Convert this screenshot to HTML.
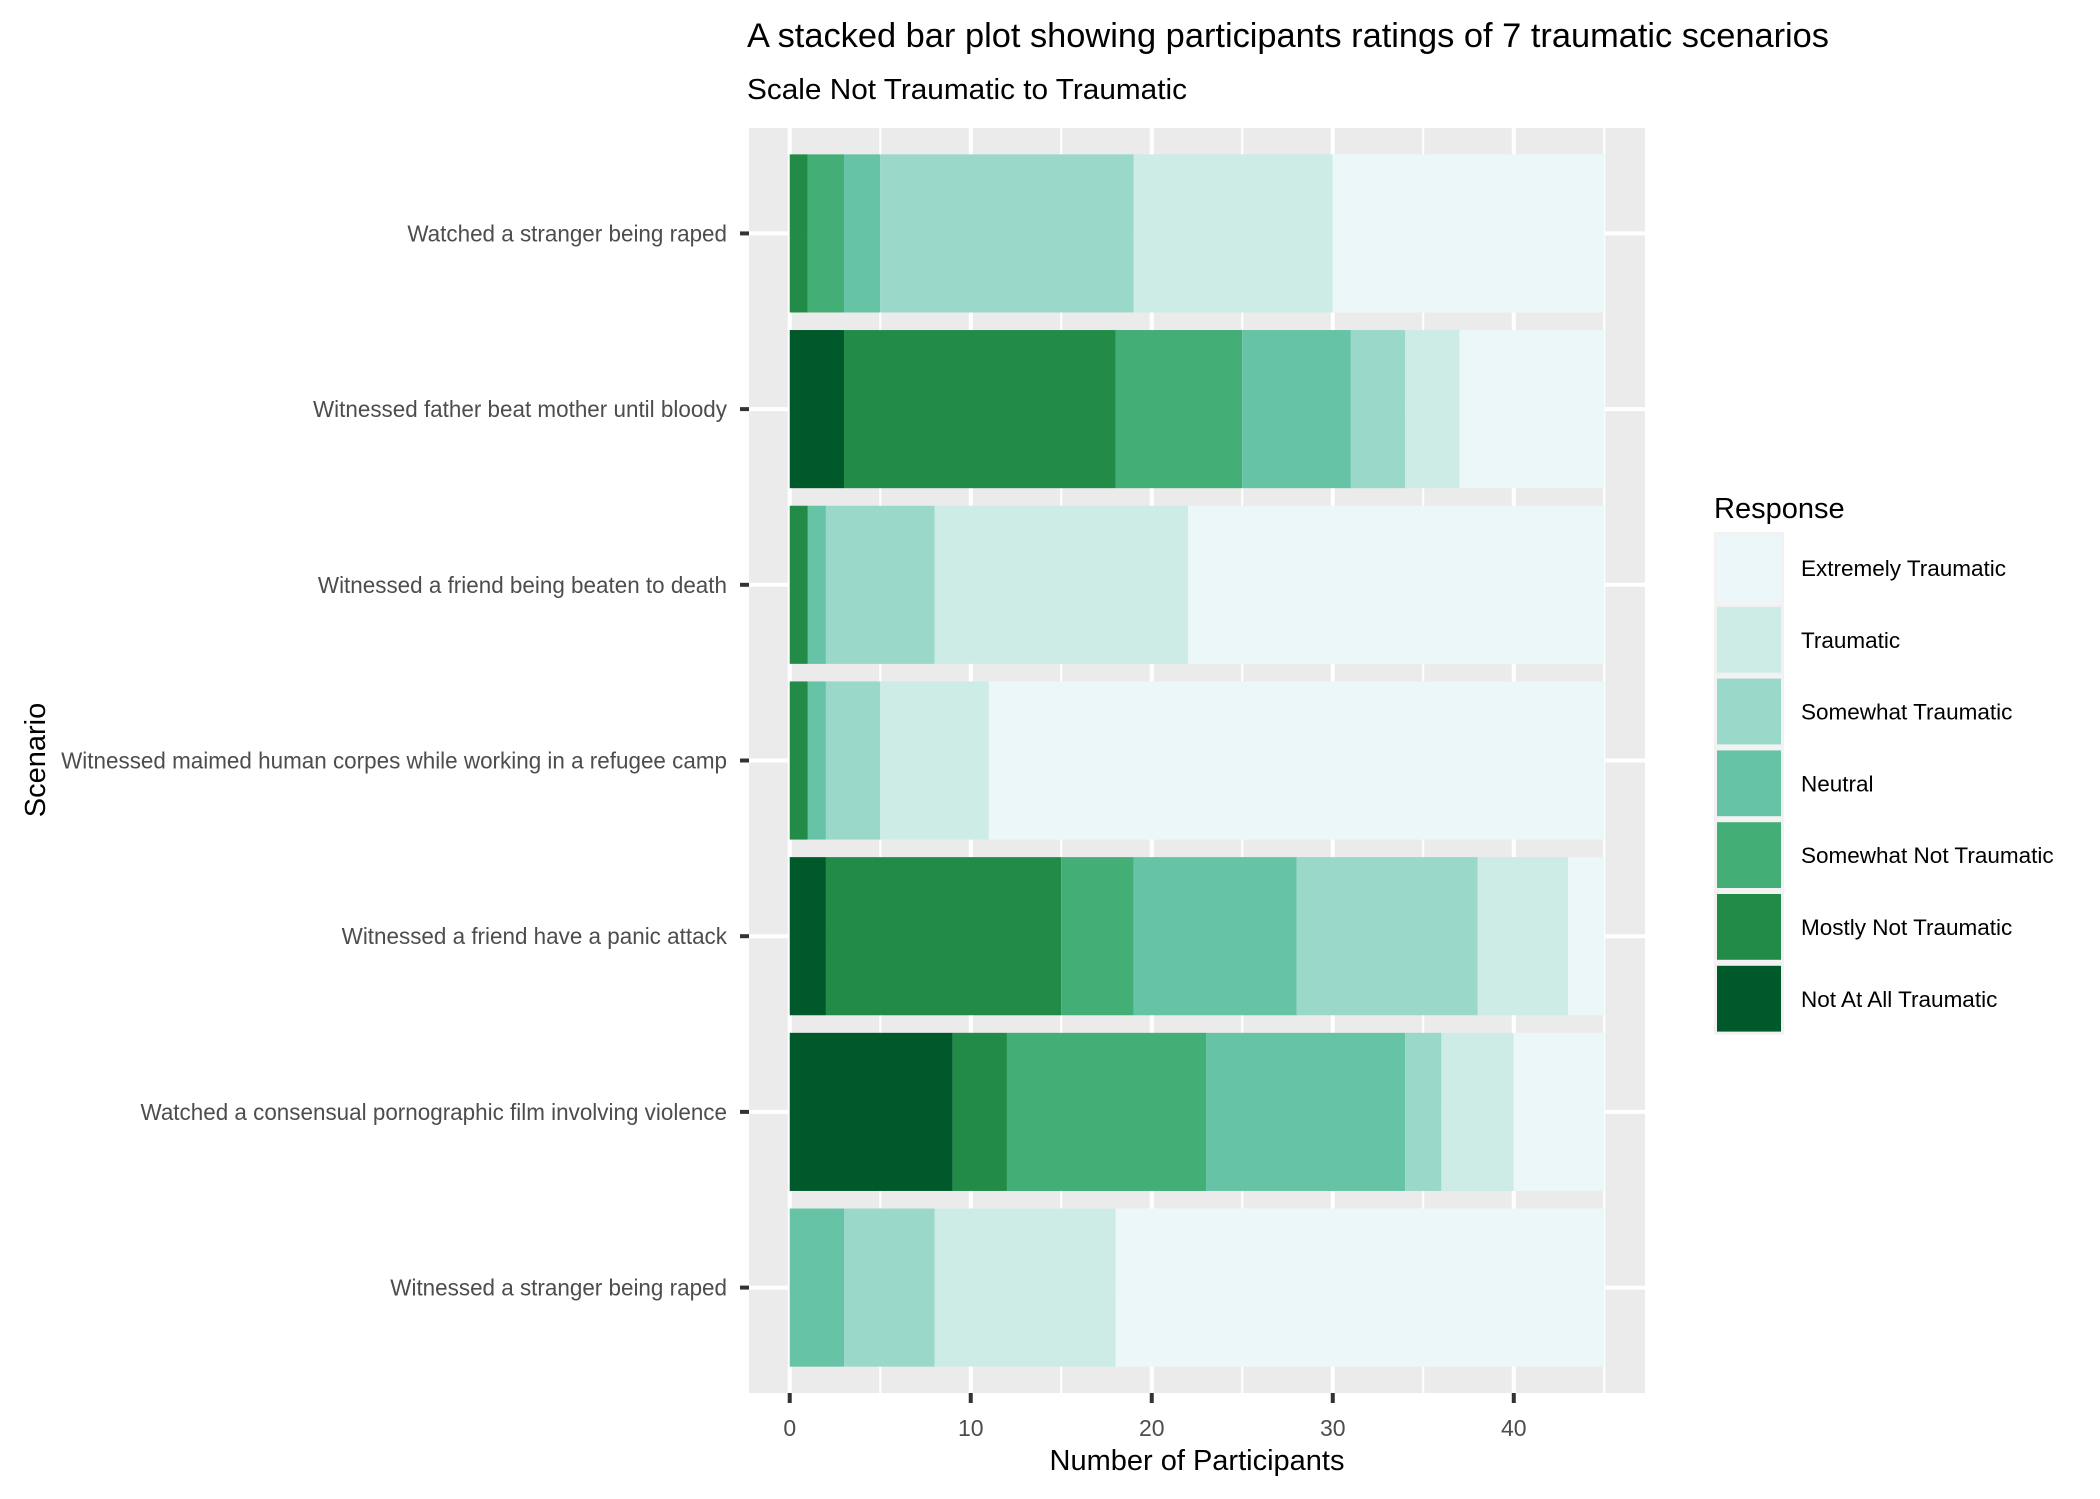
<!DOCTYPE html>
<html><head><meta charset="utf-8"><style>
html,body{margin:0;padding:0;background:#fff;}
svg{display:block;font-family:"Liberation Sans",Arial,sans-serif;}
</style></head><body>
<svg id="chart" width="2100" height="1499" viewBox="0 0 2100 1499" xmlns="http://www.w3.org/2000/svg">
<text x="747" y="47" font-size="34" textLength="1082" lengthAdjust="spacingAndGlyphs" fill="#000">A stacked bar plot showing participants ratings of 7 traumatic scenarios</text>
<text x="747" y="99" font-size="29" textLength="440" lengthAdjust="spacingAndGlyphs" fill="#000">Scale Not Traumatic to Traumatic</text>
<g id="panel"></g>
<text x="1197" y="1470" font-size="29" text-anchor="middle" fill="#000">Number of Participants</text>
<text transform="translate(45,760) rotate(-90)" font-size="29" text-anchor="middle" fill="#000">Scenario</text>
<g id="legend">
<text x="1714" y="518" font-size="29" fill="#000">Response</text>
</g>
</svg>
<script>
const categories = ["Watched a stranger being raped","Witnessed father beat mother until bloody","Witnessed a friend being beaten to death","Witnessed maimed human corpes while working in a refugee camp","Witnessed a friend have a panic attack","Watched a consensual pornographic film involving violence","Witnessed a stranger being raped"];
const responses = ["Not At All Traumatic","Mostly Not Traumatic","Somewhat Not Traumatic","Neutral","Somewhat Traumatic","Traumatic","Extremely Traumatic"];
const notAtAll     = [0,3,0,0,2,9,0];
const mostlyNot    = [1,15,1,1,13,3,0];
const somewhatNot  = [2,7,0,0,4,11,0];
const neutral      = [2,6,1,1,9,11,3];
const somewhatTr   = [14,3,6,3,10,2,5];
const traumatic    = [11,3,14,6,5,4,10];
const extremely    = [15,8,23,34,2,5,27];
const xTicks = [0,10,20,30,40];
const colors = ["#00592a","#238b48","#43ae76","#66c3a5","#9ad8c9","#cdece5","#ecf7f9"];

const series = [notAtAll,mostlyNot,somewhatNot,neutral,somewhatTr,traumatic,extremely];
const NS="http://www.w3.org/2000/svg";
const P={l:749,r:1645,t:128,b:1393};
const xMin=-2.25,xMax=47.25;
const xs=v=>P.l+(v-xMin)/(xMax-xMin)*(P.r-P.l);
const n=categories.length;
const yUnit=(P.b-P.t)/(n-1+1.2);
const yc=i=>P.t+(0.6+i)*yUnit;
function mk(tag,attrs,parent){const e=document.createElementNS(NS,tag);for(const k in attrs)e.setAttribute(k,attrs[k]);parent.appendChild(e);return e;}
const panel=document.getElementById('panel');
const bg=mk('rect',{x:P.l,y:P.t,width:P.r-P.l,height:P.b-P.t,fill:'#ebebeb'},panel);


for(let v=5;v<=45;v+=10){const g=mk('line',{x1:xs(v),x2:xs(v),y1:P.t,y2:P.b,stroke:'#fff','stroke-width':2},panel);

}
xTicks.forEach(v=>{const g=mk('line',{x1:xs(v),x2:xs(v),y1:P.t,y2:P.b,stroke:'#fff','stroke-width':4},panel);

});
categories.forEach((c,i)=>{const g=mk('line',{x1:P.l,x2:P.r,y1:yc(i),y2:yc(i),stroke:'#fff','stroke-width':4},panel);

});
const bh=0.9*yUnit;
categories.forEach((c,i)=>{
  let cum=0;
  series.forEach((s,k)=>{
    const v=s[i];
    if(v>0){const r=mk('rect',{x:xs(cum),y:yc(i)-bh/2,width:xs(cum+v)-xs(cum),height:bh,fill:colors[k]},panel);
      
      }
    cum+=v;
  });
  const t=mk('line',{x1:P.l-9,x2:P.l,y1:yc(i),y2:yc(i),stroke:'#333','stroke-width':4},panel);
  
  
  const lb=mk('text',{x:727,y:yc(i)+8,'font-size':23.5,'text-anchor':'end',fill:'#4d4d4d',transform:`translate(727,0) scale(0.955,1) translate(-727,0)`},panel);
  lb.textContent=c;
  
  
});
xTicks.forEach(v=>{
  const t=mk('line',{x1:xs(v),x2:xs(v),y1:P.b,y2:P.b+10,stroke:'#333','stroke-width':4},panel);
  
  
  const lb=mk('text',{x:xs(v),y:1436,'font-size':23,'text-anchor':'middle',fill:'#4d4d4d'},panel);
  lb.textContent=v;
  
  
});
const legend=document.getElementById('legend');
const order=[6,5,4,3,2,1,0];
order.forEach((k,j)=>{
  const y=532+j*71.8;
  const kb=mk('rect',{x:1714,y:y,width:70,height:71.8,fill:'#f2f2f2'},legend);
  
  
  const kr=mk('rect',{x:1717,y:y+3,width:64,height:65.8,fill:colors[k]},legend);
  
  
  const lt=mk('text',{x:1801,y:y+44,'font-size':22.5,fill:'#000'},legend);
  lt.textContent=responses[k];
  
  
});
</script>
</body></html>
